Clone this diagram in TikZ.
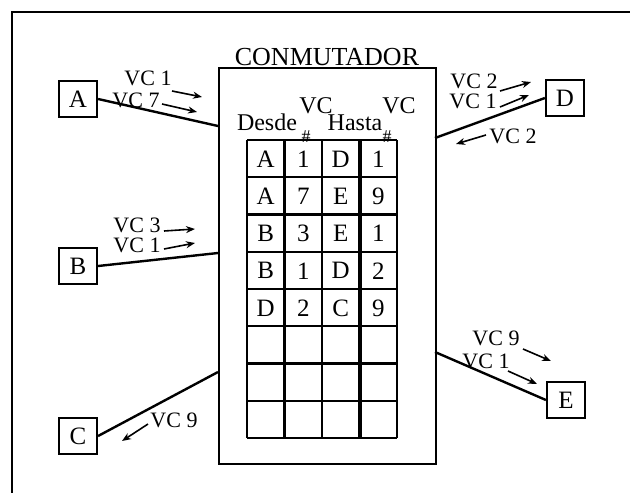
\documentclass[tikz,border=0pt]{standalone}
\usepackage{fontspec}
\setmainfont{Liberation Serif}
\usetikzlibrary{arrows.meta}
\begin{document}
\begin{tikzpicture}[x=1pt,y=-1pt,
  term/.style={draw,line width=2.2pt,minimum width=38pt,minimum height=36pt,inner sep=0pt,font=\fontsize{25}{25}\selectfont},
  lbl/.style={inner sep=0pt,anchor=base,font=\fontsize{22}{22}\selectfont},
  cell/.style={inner sep=0pt,font=\fontsize{25}{25}\selectfont},
  conn/.style={line width=2.4pt},
  arr/.style={line width=1.6pt,-{Stealth[length=9pt,width=7pt]}},
  grid/.style={line width=2.4pt}]
\useasboundingbox (0,0) rectangle (630,493);
% outer frame (top and left only)
\draw[line width=2.2pt] (630,12) -- (12,12) -- (12,493);
% switch
\node[draw,line width=2.4pt,minimum width=217pt,minimum height=396pt,inner sep=0pt,anchor=north west] (sw) at (218,67) {};
\node[inner sep=0pt,anchor=base,font=\fontsize{26}{26}\selectfont] (title) at (327,65) {CONMUTADOR};
% headers
\node[lbl,font=\fontsize{24}{24}\selectfont] (hd) at (267,130) {Desde};
\node[lbl,font=\fontsize{24}{24}\selectfont] (hv1) at (316,113) {VC};
\node[lbl,font=\fontsize{18}{18}\selectfont] (hn1) at (306,142) {\#};
\node[lbl,font=\fontsize{24}{24}\selectfont] (hh) at (355,130) {Hasta};
\node[lbl,font=\fontsize{24}{24}\selectfont] (hv2) at (399,113) {VC};
\node[lbl,font=\fontsize{18}{18}\selectfont] (hn2) at (387,142) {\#};
% table grid
\foreach \yy in {140,177.25,214.5,251.75,289,326.25,363.5,400.75,438}
  \draw[grid] (247,\yy) -- (397,\yy);
\foreach \xx in {247,284.5,322,397}
  \draw[grid] (\xx,140) -- (\xx,438);
\draw[line width=4pt] (359.5,140) -- (359.5,438);
% table entries
\foreach \r/\a/\b/\c/\d in {0/A/1/D/1,1/A/7/E/9,2/B/3/E/1,3/B/1/D/2,4/D/2/C/9}{
  \node[cell] (t\r a) at (265.75,159+37.25*\r) {\a};
  \node[cell] (t\r b) at (303.25,159+37.25*\r) {\b};
  \node[cell] (t\r c) at (340.75,159+37.25*\r) {\c};
  \node[cell] (t\r d) at (378.25,159+37.25*\r) {\d};
}
% terminals
\node[term] (A) at (78,99) {A};
\node[term] (B) at (78,266) {B};
\node[term] (C) at (78,436) {C};
\node[term] (D) at (565,98) {D};
\node[term] (E) at (566,400) {E};
% attachment points on switch
\coordinate (swA) at (218,126);
\coordinate (swB) at (218,253);
\coordinate (swC) at (218,372);
\coordinate (swD) at (435,138);
\coordinate (swE) at (435,352);
\draw[conn] (A.east) -- (swA);
\draw[conn] (B.east) -- (swB);
\draw[conn] (C.east) -- (swC);
\draw[conn] (D.west) -- (swD);
\draw[conn] (swE) -- (E.west);
% labels
\node[lbl] (la1) at (148,85) {VC 1};
\node[lbl] (la7) at (136,107) {VC 7};
\node[lbl] (lb3) at (137,232) {VC 3};
\node[lbl] (lb1) at (137,252) {VC 1};
\node[lbl] (lc9) at (174,427) {VC 9};
\node[lbl] (ld2) at (474,88) {VC 2};
\node[lbl] (ld1) at (473,108) {VC 1};
\node[lbl] (ld2b) at (513,143) {VC 2};
\node[lbl] (le9) at (496,345) {VC 9};
\node[lbl] (le1) at (486,368) {VC 1};
% arrows
\coordinate (a1s) at (172,91); \coordinate (a1e) at (202,97);
\coordinate (a7s) at (162,104); \coordinate (a7e) at (197,112);
\coordinate (b3s) at (164,231); \coordinate (b3e) at (195,229);
\coordinate (b1s) at (164,249); \coordinate (b1e) at (195,243);
\coordinate (c9s) at (148,424); \coordinate (c9e) at (122,441);
\coordinate (d2s) at (500,91); \coordinate (d2e) at (531,82);
\coordinate (d1s) at (500,107); \coordinate (d1e) at (529,95);
\coordinate (d2bs) at (486,135); \coordinate (d2be) at (456,144);
\coordinate (e9s) at (523,349); \coordinate (e9e) at (551,361);
\coordinate (e1s) at (508,371); \coordinate (e1e) at (537,384);
\draw[arr] (a1s) -- (a1e);
\draw[arr] (a7s) -- (a7e);
\draw[arr] (b3s) -- (b3e);
\draw[arr] (b1s) -- (b1e);
\draw[arr] (c9s) -- (c9e);
\draw[arr] (d2s) -- (d2e);
\draw[arr] (d1s) -- (d1e);
\draw[arr] (d2bs) -- (d2be);
\draw[arr] (e9s) -- (e9e);
\draw[arr] (e1s) -- (e1e);
\end{tikzpicture}
\end{document}
